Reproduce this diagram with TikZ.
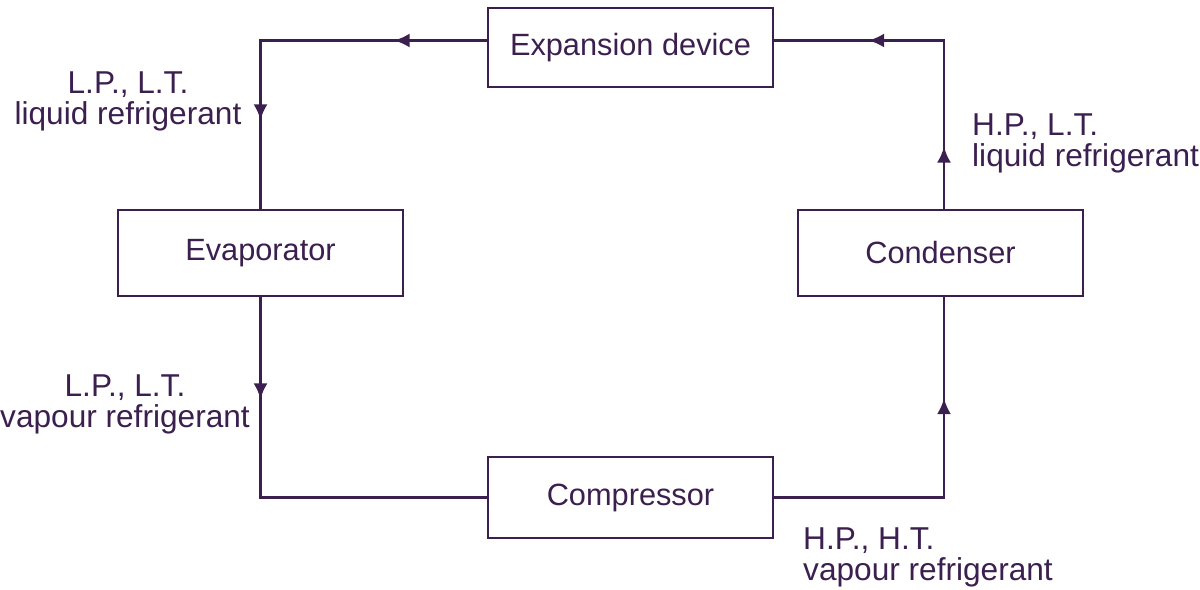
\documentclass[tikz,border=0pt]{standalone}
\usepackage{fontspec}
\setmainfont{Liberation Sans}
\usetikzlibrary{arrows.meta,decorations.markings}
\definecolor{cyc}{HTML}{3B1F4F}
\tikzset{
  unit/.style={draw=cyc,line width=1.4pt,minimum width=5.7cm,text=cyc,font=\fontsize{17.5}{21}\selectfont},
  flow/.style={draw=cyc,line width=1.5pt,postaction=decorate,
    decoration={markings,mark=at position #1 with {\arrow{Latex[length=9pt,width=8pt]}}}},
  note/.style={text=cyc,font=\fontsize{18}{17.6}\selectfont}
}
\begin{document}
\begin{tikzpicture}[x=0.02cm,y=-0.02cm]
  \useasboundingbox (0,0) rectangle (1200,590);
  % units
  \node[unit,minimum height=1.58cm] (exp) at (630.5,47.5) {Expansion device};
  \node[unit,minimum height=1.72cm] (evap) at (260.5,253) {Evaporator};
  \node[unit,minimum height=1.72cm] (cond) at (940.5,253) {Condenser};
  \node[unit,minimum height=1.62cm] (comp) at (630.5,497.5) {Compressor};
  \coordinate (expw) at ([yshift=0.14cm]exp.west);
  \coordinate (expe) at ([yshift=0.14cm]exp.east);
  \coordinate (condn) at ([xshift=0.07cm]cond.north);
  \coordinate (conds) at ([xshift=0.07cm]cond.south);
  % refrigerant lines
  \draw[flow=1.86cm] (expw) -| (evap.north);
  \path[flow=6.12cm] (expw) -| (evap.north);
  \draw[flow=2.04cm] (evap.south) |- (comp.west);
  \draw[flow=5.38cm] (comp.east) -| (conds);
  \draw[flow=1.24cm] (condn) |- (expe);
  \path[flow=4.88cm] (condn) |- (expe);
  % states
  \node[note,align=center] (s1) at (128,101) {L.P., L.T.\\liquid refrigerant};
  \node[note,align=center] (s2) at (125,404) {L.P., L.T.\\vapour refrigerant};
  \node[note,align=left,anchor=west] (s3) at (966,143) {H.P., L.T.\\liquid refrigerant};
  \node[note,align=left,anchor=west] (s4) at (797,557) {H.P., H.T.\\vapour refrigerant};
\end{tikzpicture}
\end{document}
